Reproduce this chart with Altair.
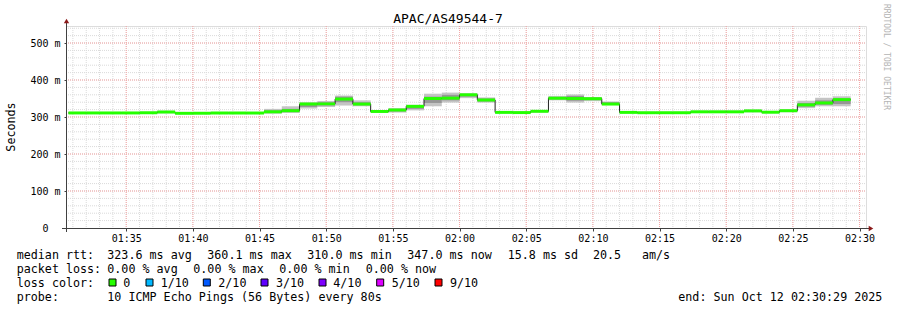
import altair as alt
import pandas as pd

MONO = "DejaVu Sans Mono"
L, T = 66, 26          # plot origin inside the 897x310 page
W, H = 800, 202

# ---------------- data ----------------
title_text = "APAC/AS49544-7"
first_step = "2025-10-12 01:30:40"
step_seconds = 80
median_ms = [311, 311, 311, 311, 311.5, 313.5, 310, 310.2, 311, 311, 310.8, 314,
             317, 335, 335.5, 348.5, 335, 315, 319, 328.8, 350, 351, 360.1, 346,
             312.5, 312, 315.5, 350.8, 350, 349.5, 335, 312.5, 311.6, 311.6, 311.6,
             314, 314, 314, 316.5, 313, 317, 332.8, 338, 347]
smoke_lo = [309, 309, 309, 309, 309, 310, 308, 308, 309, 309, 308, 309, 311, 323,
            327, 331, 329, 312, 312, 318, 329, 339, 351, 339, 310, 310, 312, 345,
            339, 343, 333, 310, 309, 309, 309, 311, 311, 311, 313, 310, 313, 324,
            329, 329]
smoke_hi = [313, 313, 313, 313, 314, 317, 312, 312, 313, 313, 313, 322, 329, 340,
            343, 358, 345, 318, 324, 333, 363, 366, 364, 353, 315, 314, 318, 357,
            361, 354, 342, 315, 314, 314, 314, 317, 317, 317, 320, 316, 321, 344,
            352, 356]
core_lo = [310, 310, 310, 310, 310, 312, 309, 309, 310, 310, 310, 311, 314, 327,
           331, 340, 332, 314, 315, 322, 338, 345, 355, 342, 311, 311, 314, 348,
           344, 346, 334, 311, 310, 310, 310, 312, 312, 312, 315, 312, 315, 328,
           333, 335]
core_hi = [312, 312, 312, 312, 313, 315, 311, 311, 312, 312, 312, 318, 322, 335,
           340, 355, 340, 316, 321, 330, 355, 360, 362, 350, 314, 313, 317, 354,
           357, 352, 340, 314, 313, 313, 313, 316, 316, 316, 318, 314, 319, 338,
           345, 350]

x_start, x_end = "2025-10-12 01:30:29", "2025-10-12 02:30:29"
y_major = [0, 100, 200, 300, 400, 500]
y_minor = list(range(20, 545, 20))
loss_labels = ["0", "1/10", "2/10", "3/10", "4/10", "5/10", "9/10"]
loss_colors = ["#26ff00", "#00b8ff", "#0059ff", "#5e00ff", "#7e00ff", "#dd00ff", "#ff0000"]

rtt_items = ["median rtt:", "323.6 ms avg", "360.1 ms max", "310.0 ms min",
             "347.0 ms now", "15.8 ms sd", "20.5", "am/s"]
loss_items = ["packet loss:", "0.00 % avg", "0.00 % max", "0.00 % min", "0.00 % now"]
probe_items = ["probe:", "10 ICMP Echo Pings (56 Bytes) every 80s"]
end_text = "end: Sun Oct 12 02:30:29 2025"


# ---------------- tables (timestamps as UTC epoch milliseconds) ----------------
def ms(ts):
    t = pd.Timestamp(ts)
    if t.tzinfo is None:
        t = t.tz_localize("UTC")
    return int(t.value // 10**6)


starts = pd.date_range(first_step, periods=len(median_ms), freq=f"{step_seconds}s")
ends = starts + pd.Timedelta(seconds=step_seconds)
df = pd.DataFrame({
    "start": [ms(t) for t in starts],
    "end": [ms(t) for t in ends],
    "median": median_ms,
    "slo": smoke_lo, "shi": smoke_hi,
    "clo": core_lo, "chi": core_hi,
})
line_df = pd.DataFrame({
    "t": [ms(t) for t in starts] + [ms(ends[-1])],
    "median": median_ms + [median_ms[-1]],
})
minor_x = pd.DataFrame({"t": [ms(t) for t in pd.date_range("2025-10-12 01:31", "2025-10-12 02:30",
                                                             freq="1min")]})
major_ticks = [ms(t) for t in pd.date_range("2025-10-12 01:35", "2025-10-12 02:30", freq="5min")]
major_x = pd.DataFrame({"t": major_ticks})
minor_y = pd.DataFrame({"v": y_minor})
major_y = pd.DataFrame({"v": y_major[1:]})
one = pd.DataFrame({"k": [0]})

# ---------------- scales / axes ----------------
xscale = alt.Scale(type="utc", domain=[ms(x_start), ms(x_end)], nice=False)
yscale = alt.Scale(domain=[0, 546], nice=False, zero=True)
xaxis = alt.Axis(title=None, format="%H:%M", values=major_ticks,
                 grid=False, domain=False, tickColor="#404040", tickSize=3,
                 labelFont=MONO, labelFontSize=10, labelColor="#000", labelPadding=2,
                 labelFlush=False, labelOverlap=False)
yaxis = alt.Axis(title=None, values=y_major, grid=False, domain=False, tickColor="#404040",
                 tickSize=2, labelFont=MONO, labelFontSize=10, labelColor="#000",
                 labelPadding={"condition": {"test": "datum.value == 0", "value": 16}, "value": 4},
                 labelFlush=False,
                 labelExpr="datum.value == 0 ? '0' : datum.value + ' m'")


def X(f, **kw):
    return alt.X(f, type="temporal", scale=xscale, axis=xaxis, **kw)


def Y(f, **kw):
    return alt.Y(f, type="quantitative", scale=yscale, axis=yaxis, **kw)


MINOR = "#dadada"
MAJOR = "#f5a5a5"
layers = []
# grid
layers.append(alt.Chart(minor_x).mark_rule(color=MINOR, strokeDash=[1, 1], strokeWidth=1)
              .encode(x=X("t"), y=alt.value(0), y2=alt.value(H)))
layers.append(alt.Chart(minor_y).mark_rule(color=MINOR, strokeDash=[1, 1], strokeWidth=1)
              .encode(y=Y("v"), x=alt.value(0), x2=alt.value(W)))
layers.append(alt.Chart(major_x).mark_rule(color=MAJOR, strokeDash=[1, 1], strokeWidth=1)
              .encode(x=X("t"), y=alt.value(0), y2=alt.value(H)))
layers.append(alt.Chart(major_y).mark_rule(color=MAJOR, strokeDash=[1, 1], strokeWidth=1)
              .encode(y=Y("v"), x=alt.value(0), x2=alt.value(W)))

# smoke
layers.append(alt.Chart(df).mark_rect(color="#c4c4c4")
              .encode(x=X("start"), x2="end", y=Y("slo"), y2="shi"))
layers.append(alt.Chart(df).mark_rect(color="#969696")
              .encode(x=X("start"), x2="end", y=Y("clo"), y2="chi"))
# median step line
layers.append(alt.Chart(line_df).mark_line(interpolate="step-after", color="#202020", strokeWidth=1)
              .encode(x=X("t"), y=Y("median")))
# loss-coloured median band
layers.append(alt.Chart(df).transform_calculate(lo="datum.median - 4", hi="datum.median + 4")
              .mark_rect(color=loss_colors[0])
              .encode(x=X("start"), x2="end", y=Y("lo:Q"), y2="hi:Q"))

# axis lines and arrows
layers.append(alt.Chart(one).mark_rule(color="#404040", strokeWidth=1)
              .encode(x=alt.value(0.5), y=alt.value(-3), y2=alt.value(H + 4)))
layers.append(alt.Chart(one).mark_rule(color="#404040", strokeWidth=1)
              .encode(x=alt.value(-4), x2=alt.value(W + 3), y=alt.value(H + 0.5)))
layers.append(alt.Chart(one).mark_point(shape="triangle-up", filled=True, size=28, color="#8b1a1a", opacity=1)
              .encode(x=alt.value(0.5), y=alt.value(-5)))
layers.append(alt.Chart(one).mark_point(shape="triangle-right", filled=True, size=28, color="#8b1a1a", opacity=1)
              .encode(x=alt.value(W + 5), y=alt.value(H + 0.5)))


def txt(s, x, y, size=11.7, color="#000", align="left", angle=0, baseline="middle"):
    return (alt.Chart(one)
            .mark_text(align=align, baseline=baseline, font=MONO, fontSize=size, color=color, angle=angle)
            .encode(x=alt.value(x - L), y=alt.value(y - T), text=alt.value(s)))


layers.append(txt(title_text, 448, 19, size=13, align="center"))
layers.append(txt("Seconds", 11, 127, size=11.7, align="center", angle=270))
layers.append(txt("RRDTOOL / TOBI OETIKER", 886, 4, size=8, color="#b4b4b4", angle=90))

rtt_x = [16.7, 107.3, 207.3, 307.3, 407.3, 507.7, 593, 642]
for s, x in zip(rtt_items, rtt_x):
    layers.append(txt(s, x, 254.5))
loss_x = [16.7, 107.3, 193.3, 279.3, 365.7]
for s, x in zip(loss_items, loss_x):
    layers.append(txt(s, x, 268.5))
layers.append(txt("loss color:", 16.7, 282.5))
sw_x = [109, 146, 203.3, 261, 319, 376.7, 435]
lab_x = [123.3, 160.7, 218.3, 276, 333.3, 391.7, 450]
for lab, col, sx, lx in zip(loss_labels, loss_colors, sw_x, lab_x):
    layers.append(alt.Chart(one).mark_rect(fill=col, stroke="#000", strokeWidth=1)
                  .encode(x=alt.value(sx - L), x2=alt.value(sx - L + 7),
                          y=alt.value(279 - T), y2=alt.value(286 - T)))
    layers.append(txt(lab, lx, 282.5))
probe_x = [16.7, 107.3]
for s, x in zip(probe_items, probe_x):
    layers.append(txt(s, x, 296.5))
layers.append(txt(end_text, 678.3, 296.5))

chart = (alt.layer(*layers)
         .properties(width=W, height=H,
                     padding={"left": L, "top": T, "right": 897 - L - W, "bottom": 310 - T - H},
                     autosize=alt.AutoSizeParams(type="none"))
         .configure_view(stroke=None)
         .configure(background="white"))

chart.save("out.html", embed_options={"renderer": "svg", "actions": False})
